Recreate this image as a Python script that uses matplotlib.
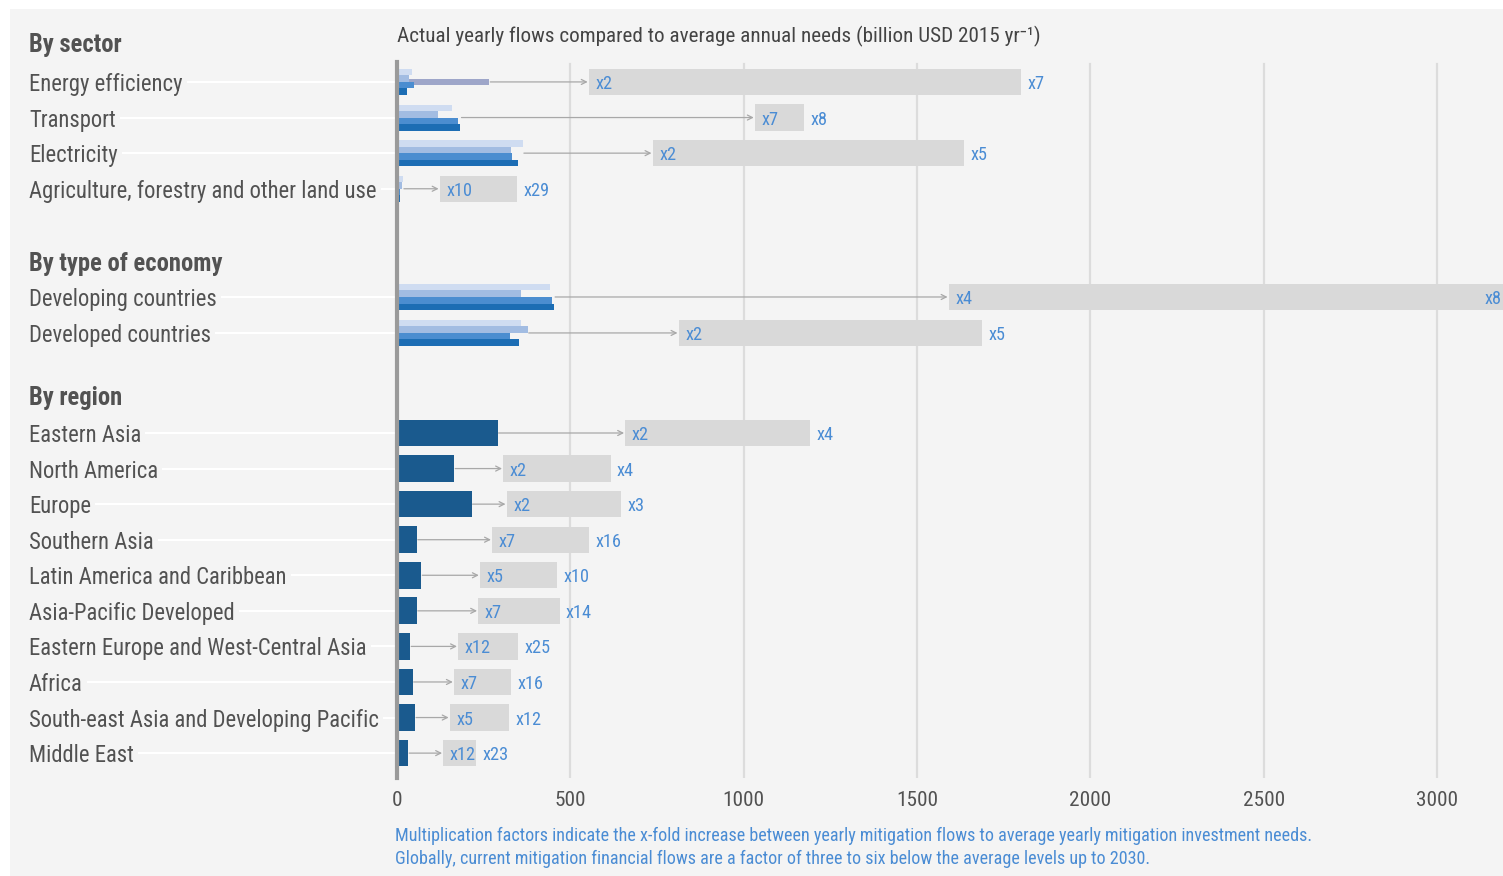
import numpy as np
import matplotlib.pyplot as plt
import matplotlib.transforms as mtransforms
from matplotlib.patches import Rectangle

plt.rcParams['font.family'] = ['Roboto Condensed', 'Open Sans Condensed',
                               'Liberation Sans Narrow', 'Lato', 'DejaVu Sans']

# By sector: four flow series per sector (lightest -> darkest)
sectors = ['Energy efficiency', 'Transport', 'Electricity',
           'Agriculture, forestry and other land use']
sector_flow_a = [42, 158, 363, 17]
sector_flow_b = [36, 119, 329, 15]
sector_flow_c = [49, 177, 331, 10]
sector_flow_d = [30, 183, 350, 8]
ee_extra_flow = 266
sector_need_low = [554, 1033, 738, 124]
sector_need_high = [1800, 1174, 1635, 346]
sector_factor_low = ['x2', 'x7', 'x2', 'x10']
sector_factor_high = ['x7', 'x8', 'x5', 'x29']

# By type of economy
economies = ['Developing countries', 'Developed countries']
econ_flow_a = [441, 358]
econ_flow_b = [358, 377]
econ_flow_c = [448, 326]
econ_flow_d = [453, 352]
econ_need_low = [1592, 813]
econ_need_high = [3600, 1687]
econ_factor_low = ['x4', 'x2']
econ_factor_high = ['x8', 'x5']

# By region
regions = ['Eastern Asia', 'North America', 'Europe', 'Southern Asia',
           'Latin America and Caribbean', 'Asia-Pacific Developed',
           'Eastern Europe and West-Central Asia', 'Africa',
           'South-east Asia and Developing Pacific', 'Middle East']
region_flow = [290, 165, 215, 57, 70, 57, 38, 45, 52, 32]
region_need_low = [659, 307, 317, 275, 240, 235, 177, 165, 153, 134]
region_need_high = [1191, 616, 646, 554, 462, 469, 349, 330, 323, 229]
region_factor_low = ['x2', 'x2', 'x2', 'x7', 'x5', 'x7', 'x12', 'x7', 'x5', 'x12']
region_factor_high = ['x4', 'x4', 'x3', 'x16', 'x10', 'x14', 'x25', 'x16', 'x12', 'x23']

title = 'Actual yearly flows compared to average annual needs (billion USD 2015 yr\u207b\u00b9)'
note1 = ('Multiplication factors indicate the x-fold increase between yearly '
         'mitigation flows to average yearly mitigation investment needs.')
note2 = ('Globally, current mitigation financial flows are a factor of three '
         'to six below the average levels up to 2030.')

BG = '#f4f4f4'
TXT = '#525252'
BLUE_TXT = '#4a8cd4'
NEED = '#d9d9d9'
ARROW = '#a8a8a8'
shades = ['#cfdcf1', '#a2bce2', '#4b8dd0', '#1c6db4']
REGION = '#1a5a8e'

W, H = 1503, 876
fig = plt.figure(figsize=(W / 100, H / 100), dpi=100)
fig.patch.set_facecolor('white')
fig.patches.append(Rectangle((10 / W, 0), 1 - 10 / W, 1 - 9 / H,
                             transform=fig.transFigure, facecolor=BG,
                             edgecolor='none', zorder=-10))
renderer = fig.canvas.get_renderer()


def fit_size(s, target_px, weight='normal', base=20):
    t = fig.text(0, 0, s, fontsize=base, fontweight=weight)
    w = t.get_window_extent(renderer).width
    t.remove()
    return base * target_px / w


lab_fs = fit_size(sectors[3], 346)
head_fs = fit_size('By type of economy', 193, 'bold')
title_fs = fit_size(title, 643)
note_fs = fit_size(note1, 915)
fac_fs = fit_size('x29', 26)
tick_fs = fit_size('1000', 42)

ax_top, ax_bot = 62, 778
ax = fig.add_axes([397 / W, 1 - ax_bot / H, 1 - 397 / W, (ax_bot - ax_top) / H])
ax.set_facecolor(BG)
ax.patch.set_alpha(0)

# row layout
sec_y = np.arange(4) * 1.0
eco_y = np.array([6.04, 7.05])
reg_y = 9.86 + np.arange(10) * 0.999
headers = [('By sector', -1.12), ('By type of economy', 5.03), ('By region', 8.82)]

xmax = 3190
ax.set_xlim(0, xmax)
ax.set_ylim(19.55, -0.56)

for gx in [500, 1000, 1500, 2000, 2500, 3000]:
    ax.axvline(gx, ymax=0.997, color='#dcdcdc', lw=1.6, zorder=0)

sub_h = 0.183
offs = np.array([-1.5, -0.5, 0.5, 1.5]) * sub_h
need_h = 0.74


def draw_need(y, lo, hi, flab_lo, flab_hi, start):
    ax.barh(y, hi - lo, left=lo, height=need_h, color=NEED, zorder=1)
    ax.annotate('', xy=(lo, y), xytext=(start + 3, y),
                arrowprops=dict(arrowstyle='->', color=ARROW, lw=0.9,
                                shrinkA=0, shrinkB=1, mutation_scale=9),
                zorder=2)
    ax.text(lo + 18, y, flab_lo, color=BLUE_TXT, fontsize=fac_fs,
            va='center_baseline', ha='left', zorder=3)
    if hi > xmax:
        ax.text(xmax - 3, y, flab_hi, color=BLUE_TXT, fontsize=fac_fs,
                va='center_baseline', ha='right', zorder=3)
    else:
        ax.text(hi + 18, y, flab_hi, color=BLUE_TXT, fontsize=fac_fs,
                va='center_baseline', ha='left', zorder=3)


# sector bars
sec_series = [sector_flow_a, sector_flow_b, sector_flow_c, sector_flow_d]
ax.barh(sec_y[0], ee_extra_flow, height=0.19, color='#9ea6c9', zorder=2)
for k, s in enumerate(sec_series):
    ax.barh(sec_y + offs[k], s, height=sub_h, color=shades[k], zorder=3)
for i in range(4):
    start = max(max(s[i] for s in sec_series), ee_extra_flow if i == 0 else 0)
    draw_need(sec_y[i], sector_need_low[i], sector_need_high[i],
              sector_factor_low[i], sector_factor_high[i], start)

# economy bars
eco_series = [econ_flow_a, econ_flow_b, econ_flow_c, econ_flow_d]
for k, s in enumerate(eco_series):
    ax.barh(eco_y + offs[k], s, height=sub_h, color=shades[k], zorder=3)
for i in range(2):
    start = max(s[i] for s in eco_series)
    draw_need(eco_y[i], econ_need_low[i], econ_need_high[i],
              econ_factor_low[i], econ_factor_high[i], start)

# region bars
ax.barh(reg_y, region_flow, height=0.75, color=REGION, zorder=3)
for i in range(len(regions)):
    draw_need(reg_y[i], region_need_low[i], region_need_high[i],
              region_factor_low[i], region_factor_high[i], region_flow[i])

# axes styling
for sp in ['top', 'right', 'bottom']:
    ax.spines[sp].set_visible(False)
ax.spines['left'].set_color('#9a9a9a')
ax.spines['left'].set_linewidth(3)
ax.spines['left'].set_zorder(5)
ax.set_yticks([])
ax.set_xticks([0, 500, 1000, 1500, 2000, 2500, 3000])
ax.tick_params(axis='x', length=0, pad=9, labelsize=tick_fs, labelcolor=TXT)

# left-hand labels with white leader lines
trans = mtransforms.blended_transform_factory(fig.transFigure, ax.transData)
lab_x = 29 / W
for names, ys in [(sectors, sec_y), (economies, eco_y), (regions, reg_y)]:
    for name, y in zip(names, ys):
        ax.plot([lab_x, 397 / W], [y, y], transform=trans, color='white',
                lw=1.5, clip_on=False, zorder=0)
        ax.text(lab_x, y, name, transform=trans, fontsize=lab_fs, color=TXT,
                va='center_baseline', ha='left', zorder=1,
                bbox=dict(facecolor=BG, edgecolor='none', pad=3))
for name, y in headers:
    ax.text(lab_x, y, name, transform=trans, fontsize=head_fs, color=TXT,
            fontweight='bold', va='center_baseline', ha='left')

fig.text(397 / W, 1 - 34 / H, title, fontsize=title_fs, color='#444444',
         va='center_baseline', ha='left')
fig.text(395 / W, 1 - 834 / H, note1, fontsize=note_fs, color=BLUE_TXT,
         va='center_baseline', ha='left')
fig.text(395 / W, 1 - 857 / H, note2, fontsize=note_fs, color=BLUE_TXT,
         va='center_baseline', ha='left')

fig.savefig('out.png', dpi=100, facecolor=fig.get_facecolor())
